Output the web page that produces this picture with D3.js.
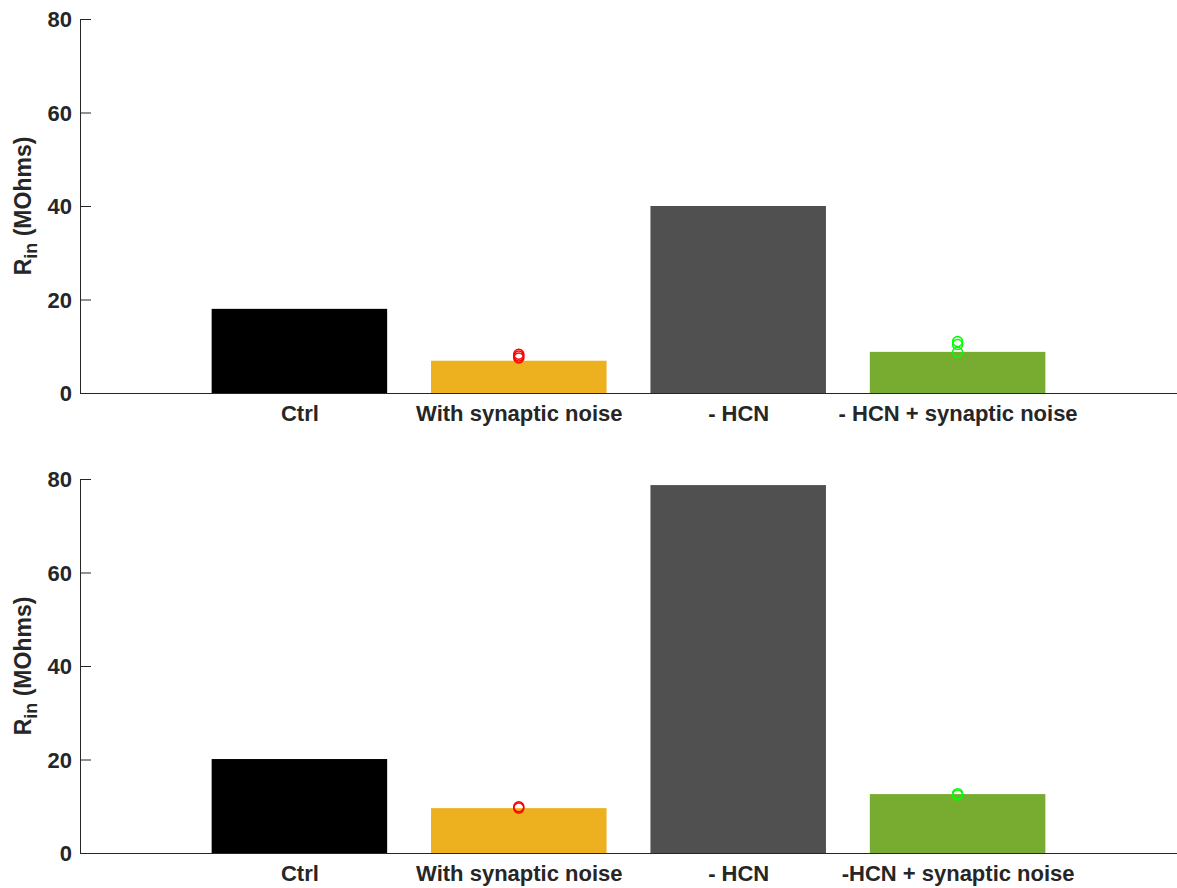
<!DOCTYPE html>
<html>
<head>
<meta charset="utf-8">
<script src="https://cdn.jsdelivr.net/npm/d3@7"></script>
<style>
  body { margin: 0; background: #fff; }
  svg text { font-family: "Liberation Sans", Arial, Helvetica, sans-serif; font-weight: bold; fill: #262626; }
</style>
</head>
<body>
<svg id="chart" width="1177" height="888"></svg>
<script>
// data
const categoriesTop = ['Ctrl', 'With synaptic noise', '- HCN', '- HCN + synaptic noise'];
const categoriesBottom = ['Ctrl', 'With synaptic noise', '- HCN', '-HCN + synaptic noise'];
const valuesTop = [18, 6.9, 40, 8.8];
const valuesBottom = [20.1, 9.6, 78.7, 12.6];
// individual points on the noise bars (index 1 = red, index 3 = green)
const pointsTopRed = [8.3, 7.9, 7.5];
const pointsTopGreen = [11.0, 10.4, 8.7];
const pointsBottomRed = [9.9, 9.6];
const pointsBottomGreen = [12.7, 12.4];
const yTicks = [0, 20, 40, 60, 80];

const barColors = ['#000000', '#EDB120', '#505050', '#77AC30'];
const axisColor = '#262626';

const svg = d3.select('#chart');
const left = 80, right = 1177;

function drawPanel(top, bottom, cats, vals, redPts, greenPts) {
  const g = svg.append('g');

  // x positions 1..4 inside limits [0,5]
  const x = d3.scaleLinear().domain([0, 5]).range([left, right]);
  const y = d3.scaleLinear().domain([0, 80]).range([bottom, top]);
  const barW = (x(1) - x(0)) * 0.8;

  // bars
  g.selectAll('rect.bar')
    .data(vals)
    .enter()
    .append('rect')
    .attr('class', 'bar')
    .attr('x', (d, i) => x(i + 1) - barW / 2)
    .attr('y', d => y(d))
    .attr('width', barW)
    .attr('height', d => y(0) - y(d))
    .style('fill', (d, i) => barColors[i]);

  // scatter circles on noise bars
  const pts = redPts.map(v => ({ i: 2, v, c: '#FF0000' }))
    .concat(greenPts.map(v => ({ i: 4, v, c: '#00FF00' })));
  g.selectAll('circle.pt')
    .data(pts)
    .enter()
    .append('circle')
    .attr('class', 'pt')
    .attr('cx', d => x(d.i))
    .attr('cy', d => y(d.v))
    .attr('r', 5)
    .style('fill', 'none')
    .style('stroke', d => d.c)
    .style('stroke-width', 1.5);

  // y axis (ticks pointing inward)
  const yAxis = d3.axisRight(y).tickValues(yTicks).tickSize(11).tickFormat(d3.format('d'));
  const ya = g.append('g').attr('transform', `translate(${left},0)`).call(yAxis);
  ya.select('.domain').attr('stroke', axisColor).attr('d', `M0.5,${top}V${bottom}`);
  ya.selectAll('.tick line').attr('stroke', axisColor).attr('x1', 0.5).attr('x2', 11);
  ya.selectAll('.tick text')
    .attr('x', -8)
    .attr('dy', '0.36em')
    .attr('text-anchor', 'end')
    .style('font-size', '22px');

  // x axis
  const xa = g.append('g').attr('transform', `translate(0,${bottom})`)
    .call(d3.axisBottom(x).tickValues([1, 2, 3, 4]).tickSize(0).tickFormat(d => cats[d - 1]));
  xa.select('.domain').attr('stroke', axisColor).attr('d', `M${left},0.5H${right}`);
  xa.selectAll('.tick text')
    .attr('y', 12)
    .attr('dy', '0.71em')
    .style('font-size', '22px');

  // y label
  const lbl = g.append('text')
    .attr('transform', `translate(31,${(top + bottom) / 2}) rotate(-90)`)
    .attr('text-anchor', 'middle')
    .style('font-size', '23px');
  lbl.append('tspan').text('R');
  lbl.append('tspan').attr('dy', 6).style('font-size', '18px').text('in');
  lbl.append('tspan').attr('dy', -6).text(' (MOhms)');
}

drawPanel(19, 393, categoriesTop, valuesTop, pointsTopRed, pointsTopGreen);
drawPanel(479, 853, categoriesBottom, valuesBottom, pointsBottomRed, pointsBottomGreen);
</script>
</body>
</html>
